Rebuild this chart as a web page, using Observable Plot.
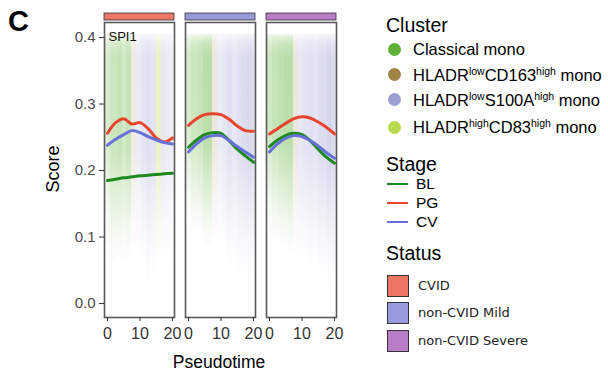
<!DOCTYPE html>
<html>
<head>
<meta charset="utf-8">
<script src="https://cdn.jsdelivr.net/npm/d3@7"></script>
<script src="https://cdn.jsdelivr.net/npm/@observablehq/plot@0.6"></script>
<style>
  html, body { margin: 0; padding: 0; background: #fff; }
  #wrap { position: relative; width: 608px; height: 374px; overflow: hidden;
          font-family: "Liberation Sans", Arial, Helvetica, sans-serif; color: #000; }
  #chart { position: absolute; left: 0; top: 0; }
  .abs { position: absolute; white-space: nowrap; }
  .tag { left: 8px; top: 4px; font-size: 29px; font-weight: bold; line-height: 34px; }
  .ytitle { left: 53px; top: 169px; font-size: 18px; transform: translate(-50%, -50%) rotate(-90deg); }
  .xtitle { left: 219px; top: 362px; font-size: 17.5px; transform: translate(-50%, -50%); }
  .ltitle { font-size: 19.5px; line-height: 22px; }
  .litem { font-size: 16.5px; line-height: 20px; }
  .litem sup { font-size: 10.5px; vertical-align: 6px; line-height: 0; }
  .sitem { font-size: 15.5px; line-height: 20px; }
  .status-item { font-family: "DejaVu Sans", sans-serif; font-size: 13px; line-height: 16px; color: #222; }
</style>
</head>
<body>
<div id="wrap">
  <div id="chart"></div>
  <div class="abs tag">C</div>
  <div class="abs ytitle">Score</div>
  <div class="abs xtitle">Pseudotime</div>
  <div id="legend"></div>
</div>
<script>
// ---------------- data ----------------
const statuses = ["CVID", "non-CVID Mild", "non-CVID Severe"];
const statusColors = ["#EE7666", "#959BDB", "#B97CC7"];

const clusters = ["Classical mono", "HLADR<sup>low</sup>CD163<sup>high</sup> mono",
                  "HLADR<sup>low</sup>S100A<sup>high</sup> mono", "HLADR<sup>high</sup>CD83<sup>high</sup> mono"];
const clusterColors = ["#5DB135", "#A0854A", "#9AA0D0", "#B8DA4C"];

const stages = ["BL", "PG", "CV"];
const stageColors = ["#1E8A1E", "#E8452F", "#6670D8"];

const xTicks = [0, 10, 20];
const yTicks = [0, 0.1, 0.2, 0.3, 0.4];
const geneLabel = "SPI1";

// smoothed score curves, read at these pseudotime knots
const knots = [0, 2.5, 5, 7.5, 10, 12.5, 15, 17.5, 20];
const cvidBL   = [0.185, 0.187, 0.189, 0.1905, 0.192, 0.193, 0.194, 0.195, 0.196];
const cvidPG   = [0.256, 0.272, 0.278, 0.270, 0.272, 0.263, 0.249, 0.243, 0.249];
const cvidCV   = [0.238, 0.247, 0.254, 0.260, 0.257, 0.251, 0.246, 0.242, 0.240];
const mildBL   = [0.235, 0.246, 0.254, 0.257, 0.256, 0.245, 0.232, 0.222, 0.2125];
const mildPG   = [0.268, 0.278, 0.284, 0.2855, 0.284, 0.277, 0.267, 0.260, 0.259];
const mildCV   = [0.228, 0.240, 0.249, 0.2525, 0.2525, 0.245, 0.236, 0.228, 0.220];
const severeBL = [0.236, 0.246, 0.253, 0.256, 0.254, 0.245, 0.232, 0.220, 0.211];
const severePG = [0.255, 0.263, 0.271, 0.278, 0.281, 0.279, 0.273, 0.265, 0.255];
const severeCV = [0.228, 0.240, 0.2485, 0.2525, 0.251, 0.245, 0.237, 0.227, 0.2185];

// background cell cloud, summarised as pseudotime streaks
const cloudEdges = [-1, 1, 3, 4.5, 6, 7.5, 9, 10.5, 12, 13.5, 15, 16.5, 18, 19.5, 21];
const cloudTop = 0.405;
const cvidCluster    = [0, 0, 0, 0, 0, 1, 2, 2, 2, 2, 3, 2, 2, 2];
const cvidDensity    = [0.7, 0.9, 1.0, 0.8, 1.0, 0.5, 0.6, 0.8, 0.9, 0.8, 0.9, 0.7, 0.6, 0.5];
const cvidLow        = [0.08, 0.05, 0.06, 0.06, 0.06, 0.07, 0.06, 0.05, 0.03, 0.04, 0.05, 0.06, 0.06, 0.07];
const mildCluster    = [0, 0, 0, 0, 0, 1, 2, 2, 2, 2, 2, 2, 2, 2];
const mildDensity    = [0.7, 0.9, 1.0, 1.2, 1.2, 0.55, 0.6, 0.7, 0.9, 0.7, 0.9, 1.0, 1.1, 1.0];
const mildLow        = [0.12, 0.10, 0.10, 0.08, 0.08, 0.08, 0.08, 0.07, 0.05, 0.05, 0.04, 0.04, 0.04, 0.04];
const severeCluster  = [0, 0, 0, 0, 0, 1, 2, 2, 2, 2, 2, 2, 2, 2];
const severeDensity  = [0.8, 1.0, 1.1, 1.2, 1.2, 0.55, 0.7, 0.8, 0.9, 0.8, 1.0, 1.0, 1.2, 1.0];
const severeLow      = [0.10, 0.09, 0.08, 0.08, 0.07, 0.07, 0.06, 0.06, 0.05, 0.05, 0.04, 0.04, 0.03, 0.03];

// ---------------- tables ----------------
const curveSets = [
  [cvidBL, cvidPG, cvidCV],
  [mildBL, mildPG, mildCV],
  [severeBL, severePG, severeCV]
];
const curveRows = [];
curveSets.forEach((set, si) => set.forEach((vals, gi) => vals.forEach((v, k) => {
  curveRows.push({status: statuses[si], stage: stages[gi], color: stageColors[gi], t: knots[k], score: v});
})));

const cloudSets = [
  [cvidCluster, cvidDensity, cvidLow],
  [mildCluster, mildDensity, mildLow],
  [severeCluster, severeDensity, severeLow]
];
const cloudRows = [];
cloudSets.forEach(([cl, dens, low], si) => cl.forEach((c, i) => {
  cloudRows.push({status: statuses[si], t0: cloudEdges[i], t1: cloudEdges[i + 1],
    fill: `url(#cloud${c})`, low: low[i], high: cloudTop, density: dens[i]});
}));

const stripRows = statuses.map((s, i) => ({status: s, color: statusColors[i]}));

const xDomain = [-0.92, 20.62];
const yDomain = [-0.021, 0.4226];
const stripBand = [0.4256, 0.4361];

const chart = Plot.plot({
  width: 345, height: 374,
  marginLeft: 103, marginRight: 8, marginTop: 22, marginBottom: 57,
  style: {fontFamily: '"Liberation Sans", Arial, sans-serif', background: "transparent", overflow: "visible"},
  fx: {domain: statuses, paddingInner: 0.135, paddingOuter: 0, axis: null, label: null},
  x: {domain: xDomain, label: null},
  y: {domain: yDomain, label: null},
  color: {type: "identity"},
  opacity: {type: "identity"},
  marks: [
    Plot.rect(cloudRows, {fx: "status", x1: "t0", x2: "t1", y1: "low", y2: "high",
      fill: "fill", fillOpacity: d => Math.min(1, 0.38 * d.density), clip: true, shapeRendering: "crispEdges"}),
    Plot.frame({stroke: "#5a5a5a", strokeWidth: 1.6}),
    Plot.rect(stripRows, {fx: "status", x1: () => xDomain[0], x2: () => xDomain[1],
      y1: () => stripBand[0], y2: () => stripBand[1], fill: "color", stroke: "#333", strokeWidth: 0.8}),
    Plot.line(curveRows, {fx: "status", x: "t", y: "score", z: "stage", stroke: "color",
      strokeWidth: 3, curve: "catmull-rom"}),
    Plot.text([{status: statuses[0], label: geneLabel}], {fx: "status", text: "label",
      frameAnchor: "top-left", dx: 4, dy: 9, fontSize: 13, textAnchor: "start", lineAnchor: "top", fill: "#111"}),
    Plot.axisX({ticks: xTicks, tickSize: 4, tickPadding: 6, fontSize: 16, label: null, stroke: "#333", color: "#333"}),
    Plot.axisY({ticks: yTicks, tickFormat: ".1f", tickSize: 5, tickPadding: 4, fontSize: 15, label: null, stroke: "#333", color: "#4a4a4a"})
  ]
});

// vertical fade for the cell cloud (dense near the top, thinning downwards)
const ns = "http://www.w3.org/2000/svg";
const defs = document.createElementNS(ns, "defs");
clusterColors.forEach((col, i) => {
  const g = document.createElementNS(ns, "linearGradient");
  g.setAttribute("id", "cloud" + i);
  g.setAttribute("x1", "0"); g.setAttribute("y1", "0");
  g.setAttribute("x2", "0"); g.setAttribute("y2", "1");
  [[0, 0.25], [0.04, 0.7], [0.1, 0.95], [0.5, 0.9], [0.7, 0.5], [0.85, 0.2], [1, 0]].forEach(([o, a]) => {
    const s = document.createElementNS(ns, "stop");
    s.setAttribute("offset", o);
    s.setAttribute("stop-color", col);
    s.setAttribute("stop-opacity", a);
    g.appendChild(s);
  });
  defs.appendChild(g);
});
chart.insertBefore(defs, chart.firstChild);
document.getElementById("chart").appendChild(chart);

// ---------------- legend ----------------
const legend = document.getElementById("legend");
function add(html, cls, left, centerY, lh) {
  const d = document.createElement("div");
  d.className = "abs " + cls;
  d.style.left = left + "px";
  d.style.top = (centerY - lh / 2) + "px";
  d.innerHTML = html;
  legend.appendChild(d);
  return d;
}
function shape(style) {
  const d = document.createElement("div");
  d.className = "abs";
  Object.assign(d.style, style);
  legend.appendChild(d);
}
add("Cluster", "ltitle", 386, 25, 22);
const clusterY = [49, 74.5, 99.5, 127];
clusters.forEach((c, i) => {
  shape({left: "387.5px", top: (clusterY[i] - 6.5) + "px", width: "13px", height: "13px",
         borderRadius: "50%", background: clusterColors[i]});
  add(c, "litem", 413, clusterY[i], 20);
});
add("Stage", "ltitle", 386, 164, 22);
const stageY = [184, 203, 222];
stages.forEach((s, i) => {
  shape({left: "387px", top: (stageY[i] - 1.25) + "px", width: "21px", height: "2.5px", background: stageColors[i]});
  add(s, "sitem", 416, stageY[i], 20);
});
add("Status", "ltitle", 386, 253, 22);
const statusY = [286, 313, 341];
statuses.forEach((s, i) => {
  shape({left: "387px", top: (statusY[i] - 11) + "px", width: "20px", height: "20px",
         background: statusColors[i], border: "1px solid #333"});
  add(s, "status-item", 418, statusY[i], 16);
});
</script>
</body>
</html>
